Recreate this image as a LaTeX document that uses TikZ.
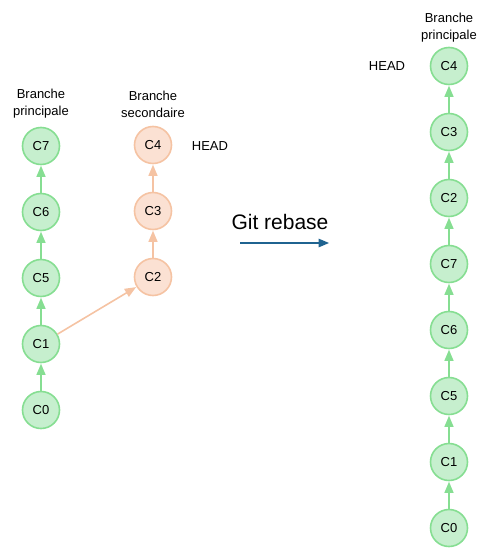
\documentclass[tikz,border=0pt]{standalone}
\usepackage{fontspec}
\setmainfont{Liberation Sans}
\usetikzlibrary{arrows,positioning}
\definecolor{vertfond}{HTML}{C6EFCE}
\definecolor{vertbord}{HTML}{86DE92}
\definecolor{orfond}{HTML}{FBE1D3}
\definecolor{orbord}{HTML}{F5C3A3}
\definecolor{bleu}{HTML}{1F6390}
\tikzstyle{commit}=[circle,line width=1.6pt,minimum size=37pt,inner sep=0pt,font=\fontsize{13}{15}\selectfont]
\tikzstyle{princ}=[commit,draw=vertbord,fill=vertfond]
\tikzstyle{second}=[commit,draw=orbord,fill=orfond]
\tikzstyle{post}=[-triangle 45,line width=1.6pt,shorten >=0.5pt]
\tikzstyle{etiq}=[align=center,font=\fontsize{13}{17}\selectfont]
\begin{document}
\begin{tikzpicture}[x=1pt,y=1pt,node distance=66pt]
            \useasboundingbox (0,0) rectangle (487,-557);
            % branche principale, avant
            \node (A0) [princ] at (41,-410) {C0};
            \node (A1) [princ] [above of=A0] {C1};
            \node (A5) [princ] [above of=A1] {C5};
            \node (A6) [princ] [above of=A5] {C6};
            \node (A7) [princ] [above of=A6] {C7};
            \node (Lp) [etiq] at (41,-104) {Branche\\principale};
            % branche secondaire
            \node (B2) [second] at (153,-277) {C2};
            \node (B3) [second] [above of=B2] {C3};
            \node (B4) [second] [above of=B3] {C4};
            \node (Ls) [etiq] at (153,-104) {Branche\\secondaire};
            \node (H1) [font=\fontsize{13}{15}\selectfont] at (210,-146) {HEAD};

            \path[post,color=vertbord] (A0) edge (A1) (A1) edge (A5) (A5) edge (A6) (A6) edge (A7);
            \path[post,color=orbord] (A1) edge (B2) (B2) edge (B3) (B3) edge (B4);

            % rebase
            \node (T) [font=\fontsize{21}{25}\selectfont] at (280,-222) {Git rebase};
            \coordinate (R0) at (240,-243);
            \coordinate (R1) at (329,-243);
            \draw[-triangle 45,line width=1.4pt,color=bleu] (R0) -- (R1);

            % branche principale, apres
            \node (C0) [princ] at (449,-528) {C0};
            \node (C1) [princ] [above of=C0] {C1};
            \node (C5) [princ] [above of=C1] {C5};
            \node (C6) [princ] [above of=C5] {C6};
            \node (C7) [princ] [above of=C6] {C7};
            \node (C2) [princ] [above of=C7] {C2};
            \node (C3) [princ] [above of=C2] {C3};
            \node (C4) [princ] [above of=C3] {C4};
            \node (Lr) [etiq] at (449,-28) {Branche\\principale};
            \node (H2) [font=\fontsize{13}{15}\selectfont] at (387,-66) {HEAD};

            \path[post,color=vertbord] (C0) edge (C1) (C1) edge (C5) (C5) edge (C6) (C6) edge (C7)
                (C7) edge (C2) (C2) edge (C3) (C3) edge (C4);
        \end{tikzpicture}
\end{document}
